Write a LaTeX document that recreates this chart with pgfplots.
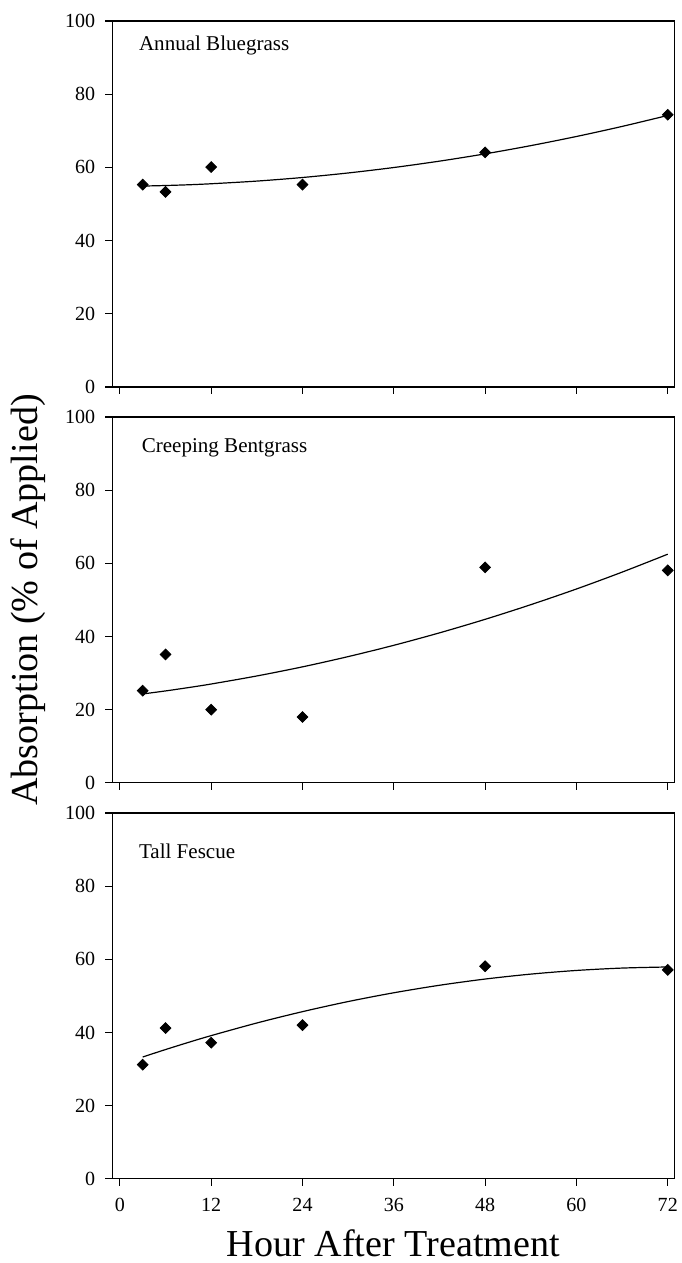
\documentclass[border=0pt]{standalone}
\usepackage{fontspec}
\setmainfont{Liberation Serif}
\usepackage{pgfplots}
\pgfplotsset{compat=1.18}
\usepgfplotslibrary{groupplots}

% measured points (hours, % of applied)
\pgfplotstableread{
x y
3 55.3
6 53.3
12 60.1
24 55.3
48 64.1
72 74.4
}\bluegrass
\pgfplotstableread{
x y
3 25.2
6 35.1
12 20.0
24 18.0
48 58.9
72 58.1
}\bentgrass
\pgfplotstableread{
x y
3 31.2
6 41.2
12 37.2
24 42.0
48 58.1
72 57.1
}\fescue

% fitted curves
\pgfplotstableread{
x y
3 54.90
6 55.05
9 55.25
12 55.53
18 56.26
24 57.24
30 58.48
36 59.97
42 61.71
48 63.70
54 65.95
60 68.45
66 71.20
72 74.20
}\bluegrassfit
\pgfplotstableread{
x y
3 24.30
6 25.13
9 26.04
12 27.02
18 29.22
24 31.71
30 34.51
36 37.60
42 41.00
48 44.70
54 48.70
60 52.99
66 57.60
72 62.50
}\bentgrassfit
\pgfplotstableread{
x y
3 33.30
6 35.33
9 37.28
12 39.14
18 42.59
24 45.69
30 48.45
36 50.85
42 52.90
48 54.60
54 55.95
60 56.95
66 57.60
72 57.90
}\fescuefit

\begin{document}
\begin{tikzpicture}
\begin{groupplot}[
    group style={group size=1 by 3, vertical sep=15pt, xticklabels at=edge bottom},
    width=280.5pt, height=182.5pt, scale only axis,
    xmin=-1, xmax=72.9, ymin=0, ymax=100,
    xtick={0,12,...,72}, ytick={0,20,...,100},
    tick align=outside, tick pos=left,
    major tick length=3.5pt,
    axis line style={line width=0.6pt},
    every tick/.style={black, line width=0.6pt},
    tick label style={font=\fontsize{10}{12}\selectfont},
    xticklabel style={yshift=-2.5pt},
    yticklabel style={xshift=-1.5pt},
    /pgf/number format/assume math mode=true,
    clip=false,
    pts/.style={only marks, mark=square*, mark size=1.9pt, mark options={rotate=45, fill=black}},
    fit/.style={no marks, black, line width=0.6pt, smooth},
]
\nextgroupplot
\addplot[fit] table {\bluegrassfit};
\addplot[pts] table {\bluegrass};
\node[anchor=west, font=\fontsize{10.5}{12}\selectfont] at (rel axis cs:0.035,0.934) {Annual Bluegrass};

\nextgroupplot[
    ylabel={Absorption (\% of Applied)},
    ylabel style={at={(axis description cs:-0.15,0.5)}, anchor=center, font=\fontsize{19}{23}\selectfont},
]
\addplot[fit] table {\bentgrassfit};
\addplot[pts] table {\bentgrass};
\node[anchor=west, font=\fontsize{10.5}{12}\selectfont] at (rel axis cs:0.04,0.915) {Creeping Bentgrass};

\nextgroupplot[
    xlabel={Hour After Treatment},
    xlabel style={at={(axis description cs:0.5,-0.176)}, anchor=center, font=\fontsize{19}{23}\selectfont},
]
\addplot[fit] table {\fescuefit};
\addplot[pts] table {\fescue};
\node[anchor=west, font=\fontsize{10.5}{12}\selectfont] at (rel axis cs:0.035,0.896) {Tall Fescue};
\end{groupplot}
\coordinate (tl) at ([shift={(-56pt,10.5pt)}]group c1r1.north west);
\coordinate (br) at ([shift={(3.5pt,-42pt)}]group c1r3.south east);
\pgfresetboundingbox
\path (tl) rectangle (br);
\end{tikzpicture}
\end{document}
